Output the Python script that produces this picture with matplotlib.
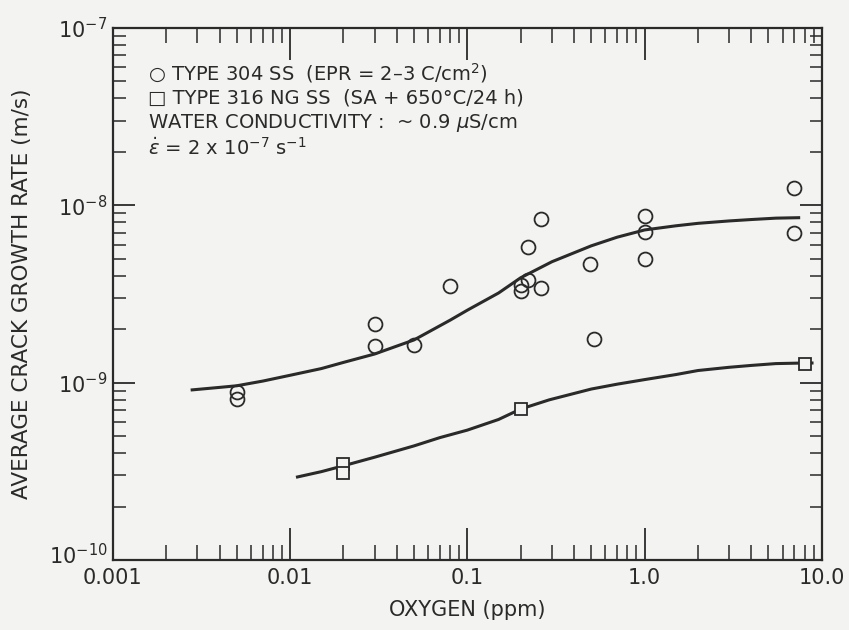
import numpy as np
import matplotlib
matplotlib.use('Agg')
import matplotlib.pyplot as plt
import matplotlib.transforms as mtransforms
from matplotlib.ticker import (LogLocator, FixedLocator, FixedFormatter, NullFormatter,
                               LogFormatterSciNotation)

plt.rcParams['font.family'] = ['DejaVu Sans']
plt.rcParams['mathtext.fontset'] = 'dejavusans'
ink = '#2a2a2a'
paper = '#f3f3f1'

# Type 304 SS (circles)
ox_304 = [0.005, 0.005, 0.03, 0.03, 0.05, 0.08, 0.2, 0.2, 0.22, 0.22, 0.26, 0.26,
          0.49, 0.52, 1.0, 1.0, 1.0, 7.0, 7.0]
rate_304 = [8.85e-10, 8.1e-10, 2.14e-9, 1.6e-9, 1.63e-9, 3.5e-9, 3.3e-9, 3.55e-9, 3.8e-9,
            5.8e-9, 8.4e-9, 3.4e-9, 4.65e-9, 1.76e-9, 8.7e-9, 7.1e-9, 5.0e-9, 1.25e-8, 7.0e-9]

# Type 316 NG SS (squares)
ox_316 = [0.02, 0.02, 0.2, 8.0]
rate_316 = [3.5e-10, 3.1e-10, 7.1e-10, 1.28e-9]

# fitted curves
fit304_x = [0.0028, 0.004, 0.005, 0.007, 0.01, 0.015, 0.02, 0.03, 0.05, 0.08, 0.1, 0.15,
            0.2, 0.3, 0.5, 0.7, 1.0, 1.5, 2.0, 3.0, 4.0, 5.5, 7.4]
fit304_y = [9.1e-10, 9.4e-10, 9.6e-10, 1.02e-9, 1.1e-9, 1.2e-9, 1.3e-9, 1.45e-9, 1.74e-9,
            2.25e-9, 2.56e-9, 3.2e-9, 3.9e-9, 4.8e-9, 5.9e-9, 6.6e-9, 7.25e-9, 7.65e-9,
            7.9e-9, 8.15e-9, 8.3e-9, 8.45e-9, 8.5e-9]
fit316_x = [0.011, 0.015, 0.02, 0.03, 0.05, 0.07, 0.1, 0.15, 0.2, 0.29, 0.5, 0.7, 1.0,
            1.5, 2.0, 3.0, 4.0, 5.5, 8.0, 8.8]
fit316_y = [2.94e-10, 3.15e-10, 3.4e-10, 3.8e-10, 4.4e-10, 4.9e-10, 5.4e-10, 6.2e-10,
            7.1e-10, 8.0e-10, 9.2e-10, 9.8e-10, 1.04e-9, 1.11e-9, 1.17e-9, 1.22e-9,
            1.25e-9, 1.28e-9, 1.29e-9, 1.29e-9]

xticks = [0.001, 0.01, 0.1, 1.0, 10.0]
xlabels = ['0.001', '0.01', '0.1', '1.0', '10.0']
yticks = [1e-10, 1e-9, 1e-8, 1e-7]

fig = plt.figure(figsize=(8.49, 6.3), dpi=100, facecolor=paper)
ax = fig.add_axes([0.133, 0.111, 0.835, 0.845])
ax.set_facecolor(paper)

ax.plot(fit304_x, fit304_y, color=ink, lw=2.2)
ax.plot(fit316_x, fit316_y, color=ink, lw=2.2)
ax.plot(ox_304, rate_304, 'o', ms=10, mfc='none', mec=ink, mew=1.3)
ax.plot(ox_316, rate_316, 's', ms=9, mfc=paper, mec=ink, mew=1.3)

ax.set_xscale('log')
ax.set_yscale('log')
ax.set_xlim(0.001, 10.0)
ax.set_ylim(1e-10, 1e-7)

ax.xaxis.set_major_locator(FixedLocator(xticks))
ax.xaxis.set_major_formatter(FixedFormatter(xlabels))
ax.xaxis.set_minor_locator(LogLocator(base=10, subs=np.arange(2, 10)))
ax.xaxis.set_minor_formatter(NullFormatter())
ax.yaxis.set_major_locator(FixedLocator(yticks))
ax.yaxis.set_major_formatter(LogFormatterSciNotation())
ax.yaxis.set_minor_locator(LogLocator(base=10, subs=np.arange(2, 10), numticks=10))
ax.yaxis.set_minor_formatter(NullFormatter())

ax.tick_params(which='both', direction='in', top=True, right=True, color=ink,
               labelcolor=ink, labelsize=15)
ax.tick_params(axis='x', which='major', length=23, width=1.3, pad=6)
ax.tick_params(axis='x', which='minor', length=11, width=1.1)
ax.tick_params(axis='y', which='major', length=16, width=1.3, pad=4)
ax.tick_params(axis='y', which='minor', length=9, width=1.1)
for s in ax.spines.values():
    s.set_linewidth(1.6)
    s.set_color(ink)

ax.set_xlabel('OXYGEN (ppm)', fontsize=15, color=ink, labelpad=8)
ax.set_ylabel('AVERAGE CRACK GROWTH RATE (m/s)', fontsize=15.5, color=ink, labelpad=12)

# lift the bottom y label a little, as in the original
shift = mtransforms.ScaledTranslation(0, 5 / 72, fig.dpi_scale_trans)
lab = ax.get_yticklabels()[0]
lab.set_transform(lab.get_transform() + shift)

tx = 0.05
for yy, txt in [(0.915, '○ TYPE 304 SS  (EPR = 2–3 C/cm$^2$)'),
                (0.868, '□ TYPE 316 NG SS  (SA + 650°C/24 h)'),
                (0.821, 'WATER CONDUCTIVITY :  ~ 0.9 $\\mu$S/cm'),
                (0.774, '$\\dot{\\epsilon}$ = 2 x 10$^{-7}$ s$^{-1}$')]:
    ax.text(tx, yy, txt, transform=ax.transAxes, fontsize=14, color=ink, va='center')

fig.savefig('out.png', dpi=100, facecolor=fig.get_facecolor())
